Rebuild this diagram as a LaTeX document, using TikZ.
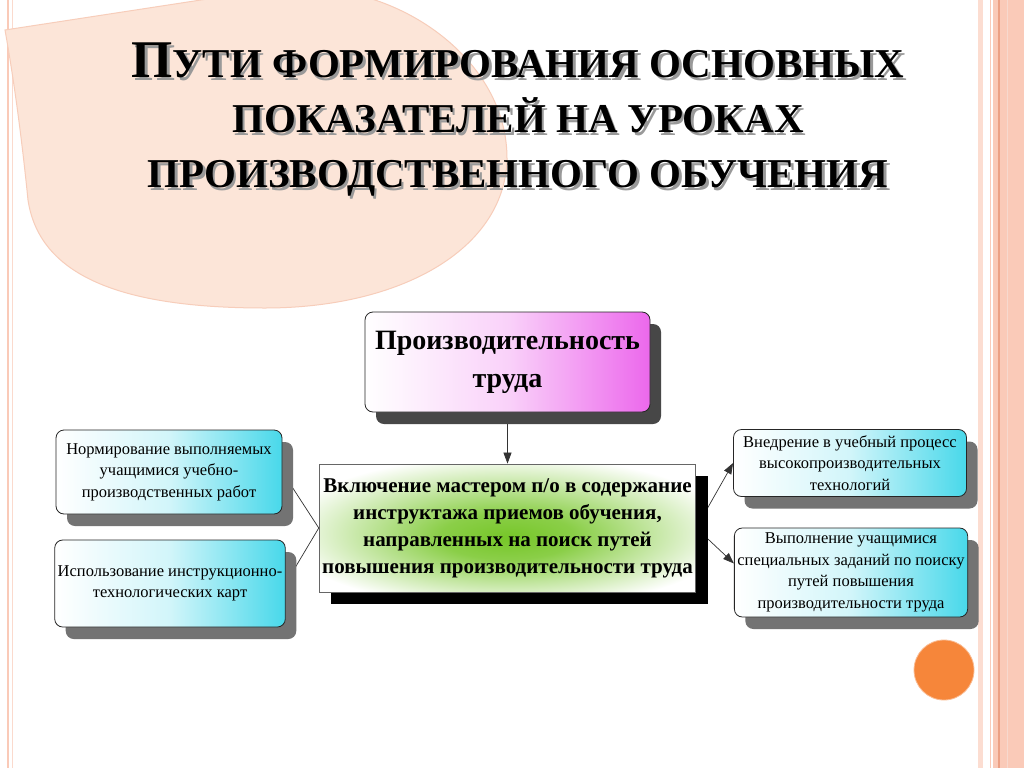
\documentclass[tikz,border=0pt]{standalone}
\usepackage{fontspec}
\setmainfont{Liberation Serif}
\usetikzlibrary{arrows.meta,shadows}
\pgfdeclarelayer{back}
\pgfdeclarelayer{links}
\pgfsetlayers{back,links,main}
\definecolor{peach}{RGB}{252,229,216}
\definecolor{peachline}{RGB}{247,205,186}
\definecolor{salmon}{RGB}{250,202,184}
\definecolor{stripe}{RGB}{236,160,132}
\definecolor{magent}{RGB}{236,104,236}
\definecolor{aqua}{RGB}{72,216,234}
\definecolor{leaf}{RGB}{118,198,40}
\definecolor{dot}{RGB}{246,134,58}
\pgfdeclareradialshading{glow}{\pgfpoint{0bp}{-4bp}}{color(0bp)=(leaf);
  color(9bp)=(leaf!85!white); color(30bp)=(white); color(50bp)=(white)}
\newcommand\titlecap[1]{{\fontsize{53}{55}\selectfont #1}}
\tikzset{
  box/.style={draw=black!85, line width=0.8pt, rounded corners=8pt, align=center, inner sep=3pt},
  goal/.style={box, minimum width=285pt, minimum height=100pt,
    left color=white, right color=magent, middle color=white!70!magent,
    font=\fontsize{28}{38}\selectfont\bfseries,
    drop shadow={shadow xshift=11pt, shadow yshift=-12pt, fill=black!72, opacity=1}},
  way/.style={draw=black!60, line width=0.8pt, align=center, inner sep=3pt,
    minimum width=371pt, minimum height=128pt, shading=glow,
    font=\fontsize{21}{27}\selectfont\bfseries,
    drop shadow={shadow xshift=12pt, shadow yshift=-12pt, fill=black, opacity=1}},
  item/.style={box, left color=white, right color=aqua, middle color=white!75!aqua,
    font=\fontsize{16.5}{21.5}\selectfont,
    drop shadow={shadow xshift=11pt, shadow yshift=-12pt, fill=black!55, opacity=1}},
  link/.style={draw=black!80, line width=0.7pt, -{Triangle[length=11pt,width=8pt]}},
}
\begin{document}
\begin{tikzpicture}[x=1pt, y=-1pt]
\useasboundingbox (0,0) rectangle (1024,768);
\begin{pgfonlayer}{back}
  \fill[white] (0,0) rectangle (1024,768);
  % page border
  \draw[salmon, line width=1.5pt] (8,0) -- (8,768);
  \draw[salmon!70, line width=1pt] (12,0) -- (12,768);
  \fill[salmon!65] (978,0) rectangle (983,768);
  \draw[salmon, line width=1pt] (990,0) -- (990,768);
  \fill[salmon] (993,0) rectangle (1024,768);
  \draw[stripe, line width=1.2pt] (999,0) -- (999,768);
  \draw[stripe!40, line width=0.6pt] (1007,0) -- (1007,768);
  % blob behind the title
  \filldraw[fill=peach, draw=peachline, line width=1pt]
    (5,30) -- (240,-6) -- (330,-10) .. controls (420,0) and (508,70) .. (507,160)
    .. controls (504,250) and (400,308) .. (265,308)
    .. controls (130,308) and (40,280) .. (28,200)
    .. controls (22,140) and (14,80) .. (5,30) -- cycle;
  \fill[dot] (944,670) circle (30);
  \draw[dot!55!white, line width=0.8pt] (944,670) circle (30);
\end{pgfonlayer}

\node[black!40, font=\fontsize{41}{55}\selectfont\bfseries, align=center] (titleshade) at (520.5,122.5)
  {\titlecap{П}УТИ ФОРМИРОВАНИЯ ОСНОВНЫХ\\ПОКАЗАТЕЛЕЙ НА УРОКАХ\\ПРОИЗВОДСТВЕННОГО ОБУЧЕНИЯ};
\node[font=\fontsize{41}{55}\selectfont\bfseries, align=center] (title) at (518,120)
  {\titlecap{П}УТИ ФОРМИРОВАНИЯ ОСНОВНЫХ\\ПОКАЗАТЕЛЕЙ НА УРОКАХ\\ПРОИЗВОДСТВЕННОГО ОБУЧЕНИЯ};

\node[goal] (prod) at (507.5,362) {Производительность\\труда};
\node[way] (incl) at (507.5,528) {Включение мастером п/о в содержание\\инструктажа приемов обучения,\\направленных на поиск путей\\повышения производительности труда};

\node[item, minimum width=226pt, minimum height=84pt] (norm) at (169,472)
  {Нормирование выполняемых\\учащимися учебно-\\производственных работ};
\node[item, minimum width=228pt, minimum height=87pt] (cards) at (170,583.5)
  {Использование инструкционно-\\технологических карт};
\node[item, minimum width=233pt, minimum height=67pt] (tech) at (850,463)
  {Внедрение в учебный процесс\\высокопроизводительных\\технологий};
\node[item, minimum width=228pt, minimum height=89pt] (tasks) at (851,572.5)
  {Выполнение учащимися\\специальных заданий по поиску\\путей повышения\\производительности труда};

\begin{pgfonlayer}{links}
  \draw[link] (prod) -- (incl);
  \draw[link] (incl.west) -- (norm.east);
  \draw[link] (incl.west) -- (cards.east);
  \draw[link] (incl.east) -- (tech.west);
  \draw[link] (incl.east) -- ([yshift=9pt]tasks.west);
\end{pgfonlayer}
\end{tikzpicture}
\end{document}
